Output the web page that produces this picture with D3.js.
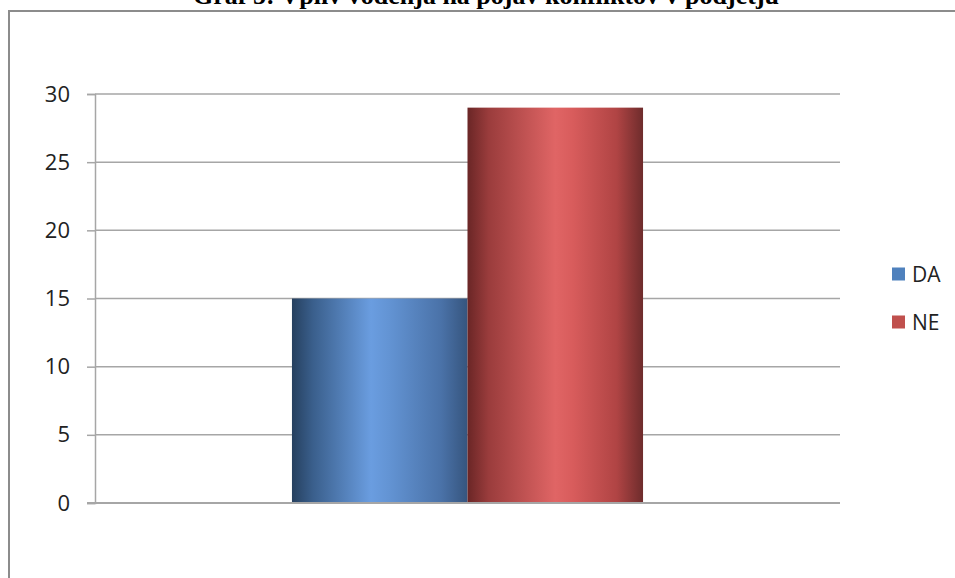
<!DOCTYPE html>
<html>
<head>
<meta charset="utf-8">
<script src="https://cdn.jsdelivr.net/npm/d3@7"></script>
<style>
  html, body { margin: 0; padding: 0; background: #fff; }
  svg { display: block; }
</style>
</head>
<body>
<svg id="chart" width="955" height="578"></svg>
<script>
// Chart data
const categories = ["1"];
const seriesNames = ["DA", "NE"];
const seriesValues = [15, 29];
const yTicks = [0, 5, 10, 15, 20, 25, 30];
const titleText = "Graf 5: Vpliv vodenja na pojav konfliktov v podjetju";

const svg = d3.select("#chart");
const W = 955, H = 578;

// Gradient definitions for the cylindrical bar shading
const defs = svg.append("defs");
const gradStops = {
  DA: [[0, "#26405f"], [0.12, "#3a5f8c"], [0.45, "#6a9de0"], [0.55, "#6394d4"], [0.85, "#4a72a8"], [1, "#36557e"]],
  NE: [[0, "#6a2626"], [0.12, "#9a3c3c"], [0.5, "#e06565"], [0.6, "#d85c5c"], [0.85, "#b04444"], [1, "#6e2c2c"]]
};
seriesNames.forEach(name => {
  const g = defs.append("linearGradient").attr("id", "grad-" + name)
    .attr("x1", "0%").attr("x2", "100%").attr("y1", "0%").attr("y2", "0%");
  gradStops[name].forEach(([o, c]) => g.append("stop").attr("offset", o).attr("stop-color", c));
});
const legendColors = { DA: "#4f81bd", NE: "#c0504d" };

// Outer frame
svg.append("path")
  .attr("d", `M9,${H + 5} L9,11 L${W + 5},11`)
  .attr("fill", "none").attr("stroke", "#8c8c8c").attr("stroke-width", 2);

// Title
svg.append("text")
  .attr("x", 486).attr("y", 4)
  .attr("text-anchor", "middle")
  .attr("font-family", "'Liberation Serif', 'Times New Roman', serif")
  .attr("font-weight", "bold").attr("font-size", 26)
  .attr("fill", "#000")
  .text(titleText);

// Plot area
const plot = { left: 95, right: 840, top: 94, bottom: 503 };
const y = d3.scaleLinear().domain([0, 30]).range([plot.bottom, plot.top]);
const x0 = d3.scaleBand().domain(categories).range([plot.left, plot.right]).paddingInner(0).paddingOuter(0.561);
const x1 = d3.scaleBand().domain(seriesNames).range([0, x0.bandwidth()]).padding(0);

// Gridlines
svg.append("g").selectAll("line").data(yTicks).join("line")
  .attr("x1", plot.left).attr("x2", plot.right)
  .attr("y1", d => y(d)).attr("y2", d => y(d))
  .attr("stroke", "#a6a6a6").attr("stroke-width", 1.5);

// Y axis
const yAxis = svg.append("g")
  .attr("transform", `translate(${plot.left},0)`)
  .call(d3.axisLeft(y).tickValues(yTicks).tickSize(8).tickPadding(17));
yAxis.select(".domain").attr("stroke", "#a6a6a6").attr("stroke-width", 1.5);
yAxis.selectAll(".tick line").attr("stroke", "#a6a6a6").attr("stroke-width", 1.5);
yAxis.selectAll(".tick text")
  .attr("font-family", "'Open Sans', 'Liberation Sans', sans-serif")
  .attr("font-size", 22).attr("fill", "#222");

// Bars
const barGroup = svg.append("g");
categories.forEach(cat => {
  seriesNames.forEach((name, i) => {
    barGroup.append("rect")
      .attr("x", x0(cat) + x1(name))
      .attr("y", y(seriesValues[i]))
      .attr("width", x1.bandwidth())
      .attr("height", y(0) - y(seriesValues[i]))
      .attr("fill", `url(#grad-${name})`);
  });
});

// Baseline redrawn above the bars
svg.append("line")
  .attr("x1", plot.left - 8).attr("x2", plot.right)
  .attr("y1", y(0)).attr("y2", y(0))
  .attr("stroke", "#a6a6a6").attr("stroke-width", 2);

// Legend
const legend = svg.append("g");
seriesNames.forEach((name, i) => {
  const ly = 274 + i * 48;
  legend.append("rect")
    .attr("x", 892).attr("y", ly - 6.5).attr("width", 13).attr("height", 13)
    .attr("fill", legendColors[name]);
  legend.append("text")
    .attr("x", 912).attr("y", ly).attr("dy", "0.36em")
    .attr("font-family", "'Open Sans', 'Liberation Sans', sans-serif")
    .attr("font-size", 21).attr("fill", "#222")
    .text(name);
});
</script>
</body>
</html>
